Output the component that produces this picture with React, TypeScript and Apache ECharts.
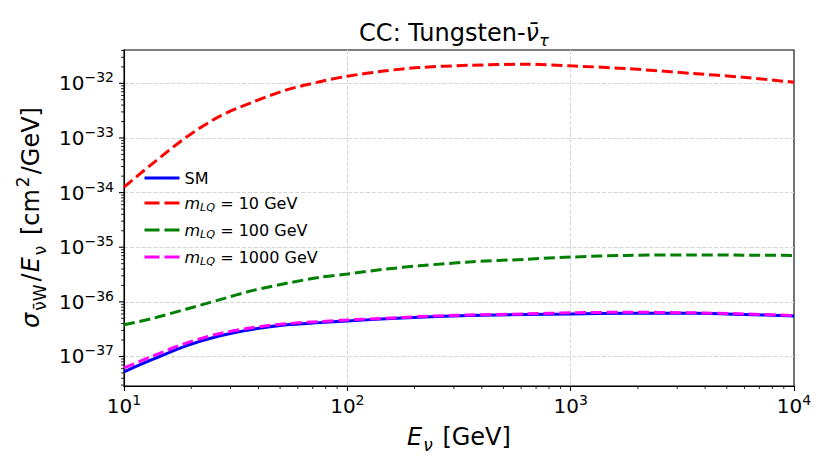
import React, { useEffect, useRef } from "react";
import * as echarts from "echarts";

// Neutrino energy grid (GeV)
const energiesGeV = [10, 13.5, 19.1, 26.9, 37.9, 53.5, 75.3, 100, 149, 210, 352, 635, 1000, 1778, 3540, 5930, 10000];
// log10 of sigma/E [cm^2/GeV]
const smLog10 = [-37.28, -37.05, -36.8, -36.62, -36.5, -36.42, -36.38, -36.35, -36.31, -36.28, -36.25, -36.23, -36.22, -36.21, -36.21, -36.23, -36.26];
const lq10Log10 = [-33.9, -33.46, -32.98, -32.6, -32.34, -32.12, -31.97, -31.87, -31.77, -31.71, -31.67, -31.65, -31.68, -31.73, -31.82, -31.89, -31.98];
const lq100Log10 = [-36.42, -36.3, -36.13, -35.96, -35.79, -35.66, -35.55, -35.49, -35.4, -35.34, -35.27, -35.22, -35.18, -35.15, -35.14, -35.145, -35.15];
const lq1000Log10 = [-37.21, -36.99, -36.75, -36.58, -36.47, -36.4, -36.36, -36.33, -36.3, -36.27, -36.24, -36.22, -36.2, -36.19, -36.2, -36.22, -36.25];

const seriesNames = ["SM", "m10", "m100", "m1000"];
const legendLabels = ["SM", "10", "100", "1000"];
const seriesColors = ["#0000ff", "#ff0000", "#008000", "#ff00ff"];

const X_MIN = 1;
const X_MAX = 4;
const Y_MIN = -37.54;
const Y_MAX = -31.39;
const yMajorExponents = [-37, -36, -35, -34, -33, -32];
const FONT = "'DejaVu Sans', sans-serif";

function minorTicks(lo: number, hi: number, dFrom: number, dTo: number) {
  const out: number[] = [];
  for (let d = dFrom; d <= dTo; d++) {
    for (let k = 2; k <= 9; k++) {
      const v = d + Math.log10(k);
      if (v > lo && v < hi) out.push(v);
    }
  }
  return out;
}

export default function App() {
  const ref = useRef<HTMLDivElement>(null);
  useEffect(() => {
    document.body.style.margin = "0";
    const chart = echarts.init(ref.current!, null, { renderer: "svg" });

    const xs = energiesGeV.map((e) => Math.log10(e));
    const allSeries = [smLog10, lq10Log10, lq100Log10, lq1000Log10];

    const lineSeries = allSeries.map((vals, i) => ({
      type: "line",
      name: seriesNames[i],
      data: xs.map((x, j) => [x, vals[j]]),
      showSymbol: false,
      symbol: "none",
      smooth: 0.3,
      z: 3 + i,
      lineStyle: {
        color: seriesColors[i],
        width: 3,
        type: i === 0 ? "solid" : [11, 4.8],
      },
      itemStyle: { color: seriesColors[i] },
    }));

    const xMinor = minorTicks(X_MIN, X_MAX, 1, 3).map((v) => [v, Y_MIN, 3]);
    const yMinor = minorTicks(Y_MIN, Y_MAX, -38, -32).map((v) => [X_MIN, v, 3]);
    const yMajor = yMajorExponents.map((v) => [X_MIN, v, 5]);

    const tickSeries = (name: string, data: number[][], dir: "x" | "y") => ({
      type: "custom",
      name,
      silent: true,
      clip: false,
      z: 20,
      data,
      renderItem: (_p: any, api: any) => {
        const pt = api.coord([api.value(0), api.value(1)]);
        const len = api.value(2);
        const lw = len > 4 ? 1.1 : 0.85;
        return dir === "x"
          ? { type: "line", shape: { x1: pt[0], y1: pt[1], x2: pt[0], y2: pt[1] + len }, style: { stroke: "#000", lineWidth: lw } }
          : { type: "line", shape: { x1: pt[0] - len, y1: pt[1], x2: pt[0], y2: pt[1] }, style: { stroke: "#000", lineWidth: lw } };
      },
    });

    const tickRich = {
      b: { fontFamily: FONT, fontSize: 20, color: "#000", lineHeight: 26 },
      s: { fontFamily: FONT, fontSize: 14, color: "#000", lineHeight: 14, verticalAlign: "top" },
    };

    const option: any = {
      animation: false,
      backgroundColor: "#fff",
      title: {
        text: "CC: Tungsten-{i|ν̄}{sub|τ}",
        left: 449,
        top: 12,
        textAlign: "center",
        textStyle: {
          fontFamily: FONT,
          fontSize: 24,
          fontWeight: "normal",
          color: "#000",
          lineHeight: 32,
          rich: {
            i: { fontFamily: FONT, fontSize: 24, fontStyle: "italic", color: "#000", lineHeight: 32 },
            sub: { fontFamily: FONT, fontSize: 16.5, fontStyle: "italic", color: "#000", lineHeight: 16, verticalAlign: "bottom" },
          },
        },
      },
      legend: {
        data: seriesNames.map((n, i) => ({
          name: n,
          lineStyle: { width: 3, color: seriesColors[i], type: i === 0 ? "solid" : [15, 5] },
        })),
        orient: "vertical",
        left: 138,
        top: 165,
        itemWidth: 35,
        itemHeight: 14,
        itemGap: 9,
        itemStyle: { opacity: 0 },
        lineStyle: { width: 3 },
        formatter: (name: string) => {
          const idx = seriesNames.indexOf(name);
          if (idx === 0) return "{n|SM}";
          return "{i|m}{sub|LQ}{n| = " + legendLabels[idx] + " GeV}";
        },
        textStyle: {
          fontFamily: FONT,
          fontSize: 16,
          color: "#000",
          rich: {
            n: { fontFamily: FONT, fontSize: 16, color: "#000", lineHeight: 20 },
            i: { fontFamily: FONT, fontSize: 16, fontStyle: "italic", color: "#000", lineHeight: 20 },
            sub: { fontFamily: FONT, fontSize: 11.2, fontStyle: "italic", color: "#000", lineHeight: 10, verticalAlign: "bottom" },
          },
        },
      },
      grid: {
        left: 124,
        right: 36,
        top: 50,
        bottom: 89,
        show: true,
        borderColor: "#000",
        borderWidth: 1.1,
        backgroundColor: "transparent",
      },
      xAxis: {
        type: "value",
        min: X_MIN,
        max: X_MAX,
        interval: 1,
        name: "{i|E}{sub|ν}{n| [GeV]}",
        nameLocation: "middle",
        nameGap: 35,
        nameTextStyle: {
          fontFamily: FONT,
          fontSize: 24,
          color: "#000",
          lineHeight: 32,
          rich: {
            i: { fontFamily: FONT, fontSize: 24, fontStyle: "italic", color: "#000", lineHeight: 32 },
            n: { fontFamily: FONT, fontSize: 24, color: "#000", lineHeight: 32 },
            sub: { fontFamily: FONT, fontSize: 17, fontStyle: "italic", color: "#000", lineHeight: 16, verticalAlign: "bottom", padding: [0, 2, 0, 1] },
          },
        },
        axisLine: { show: true, onZero: false, lineStyle: { color: "#000", width: 1.1 } },
        axisTick: { show: true, length: 5, lineStyle: { color: "#000", width: 1.1 } },
        axisLabel: {
          margin: 7,
          formatter: (v: number) => "{b|10}{s|" + Math.round(v) + "}",
          rich: tickRich,
        },
        splitLine: {
          show: true,
          showMinLine: false,
          showMaxLine: false,
          lineStyle: { color: "#d6d6d6", width: 1.1, type: [4.1, 1.8] },
        },
      },
      yAxis: {
        type: "value",
        min: Y_MIN,
        max: Y_MAX,
        splitNumber: 6,
        name: "{i|σ}{sub|ν̄W}{n|/}{i|E}{sub|ν}{n| [cm}{sup|2}{n|/GeV]}",
        nameLocation: "middle",
        nameRotate: 90,
        nameGap: 68,
        nameTextStyle: {
          fontFamily: FONT,
          fontSize: 24,
          color: "#000",
          lineHeight: 34,
          rich: {
            i: { fontFamily: FONT, fontSize: 24, fontStyle: "italic", color: "#000", lineHeight: 34, padding: [0, 1, 0, 1] },
            n: { fontFamily: FONT, fontSize: 24, color: "#000", lineHeight: 34 },
            sub: { fontFamily: FONT, fontSize: 17, color: "#000", lineHeight: 17, verticalAlign: "bottom", padding: [0, 3, 0, 1] },
            sup: { fontFamily: FONT, fontSize: 17, color: "#000", lineHeight: 17, verticalAlign: "top", padding: [0, 2, 0, 2] },
          },
        },
        axisLine: { show: true, onZero: false, lineStyle: { color: "#000", width: 1.1 } },
        axisTick: { show: false },
        axisLabel: {
          margin: 10,
          showMinLabel: false,
          showMaxLabel: false,
          formatter: (v: number) => "{b|10}{s|−" + Math.abs(Math.round(v)) + "}",
          rich: tickRich,
        },
        splitLine: {
          show: true,
          showMinLine: false,
          showMaxLine: false,
          lineStyle: { color: "#d6d6d6", width: 1.1, type: [4.1, 1.8] },
        },
      },
      series: [
        ...lineSeries,
        tickSeries("xMinorTicks", xMinor, "x"),
        tickSeries("yMinorTicks", yMinor, "y"),
        tickSeries("yMajorTicks", yMajor, "y"),
      ],
    };

    chart.setOption(option);
    return () => chart.dispose();
  }, []);

  return <div ref={ref} style={{ width: 830, height: 475 }} />;
}
